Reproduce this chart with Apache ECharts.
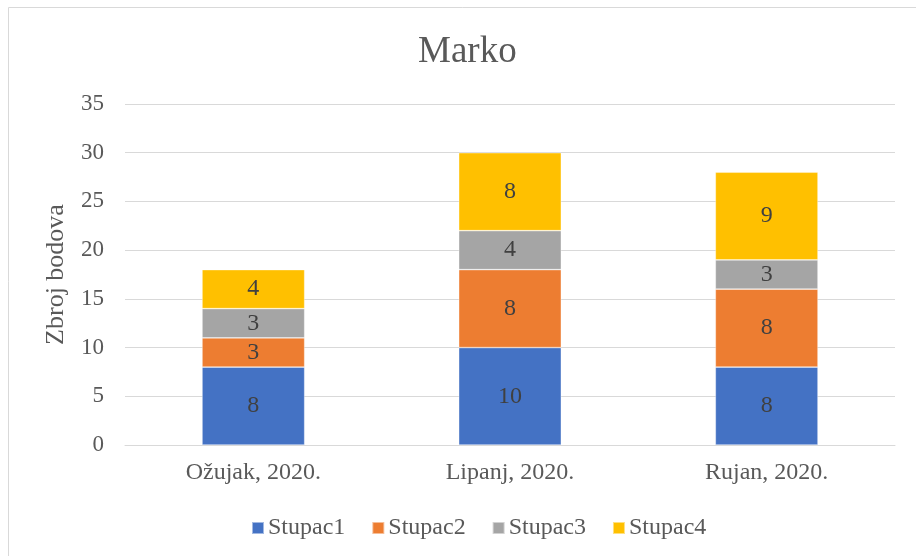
<!DOCTYPE html>
<html>
<head>
<meta charset="utf-8">
<style>
html,body{margin:0;padding:0;background:#fff;}
#c{width:916px;height:556px;}
</style>
<script src="https://cdn.jsdelivr.net/npm/echarts@6/dist/echarts.min.js"></script>
</head>
<body>
<div id="c"></div>
<script>
const categories = ['Ožujak, 2020.', 'Lipanj, 2020.', 'Rujan, 2020.'];
const seriesNames = ['Stupac1', 'Stupac2', 'Stupac3', 'Stupac4'];
const stupac1 = [8, 10, 8];
const stupac2 = [3, 8, 8];
const stupac3 = [3, 4, 3];
const stupac4 = [4, 8, 9];
const colors = ['#4472C4', '#ED7D31', '#A5A5A5', '#FFC000'];
const seriesValues = [stupac1, stupac2, stupac3, stupac4];

const FONT = '"Liberation Serif", "Times New Roman", serif';
const chart = echarts.init(document.getElementById('c'));
chart.setOption({
  animation: false,
  color: colors,
  textStyle: { fontFamily: FONT },
  title: {
    text: 'Marko',
    left: 413,
    top: 29,
    textStyle: { fontFamily: FONT, fontSize: 37, fontWeight: 'normal', color: '#595959' }
  },
  graphic: [
    { type: 'line', shape: { x1: 8.5, y1: 7.5, x2: 916, y2: 7.5 }, style: { stroke: '#D9D9D9', lineWidth: 1 } },
    { type: 'line', shape: { x1: 8.5, y1: 7.5, x2: 8.5, y2: 556 }, style: { stroke: '#D9D9D9', lineWidth: 1 } }
  ],
  legend: {
    data: seriesNames,
    left: 246,
    top: 511,
    itemWidth: 12,
    itemHeight: 12,
    itemGap: 26,
    icon: 'rect',
    textStyle: { fontFamily: FONT, fontSize: 24, color: '#595959', padding: [0, 0, 0, -1] }
  },
  grid: { left: 125, right: 21, top: 104, bottom: 111, containLabel: false },
  xAxis: {
    type: 'category',
    data: categories,
    axisLine: { lineStyle: { color: '#D9D9D9', width: 1 } },
    axisTick: { show: false },
    axisLabel: { margin: 16, fontFamily: FONT, fontSize: 24, color: '#595959' }
  },
  yAxis: {
    type: 'value',
    min: 0,
    max: 35,
    interval: 5,
    name: 'Zbroj bodova',
    nameLocation: 'middle',
    nameGap: 56,
    nameTextStyle: { fontFamily: FONT, fontSize: 26, color: '#595959' },
    axisLine: { show: false },
    axisTick: { show: false },
    splitLine: { lineStyle: { color: '#D9D9D9', width: 1 } },
    axisLabel: { margin: 21, fontFamily: FONT, fontSize: 23, color: '#595959' }
  },
  series: seriesNames.map((n, i) => ({
    name: n,
    type: 'bar',
    stack: 'total',
    barWidth: '40%',
    data: seriesValues[i],
    itemStyle: { color: colors[i], borderColor: 'rgba(255,255,255,0.5)', borderWidth: 0.7 },
    label: { show: true, position: 'inside', fontFamily: FONT, fontSize: 24, color: '#404040' }
  }))
});
</script>
</body>
</html>
